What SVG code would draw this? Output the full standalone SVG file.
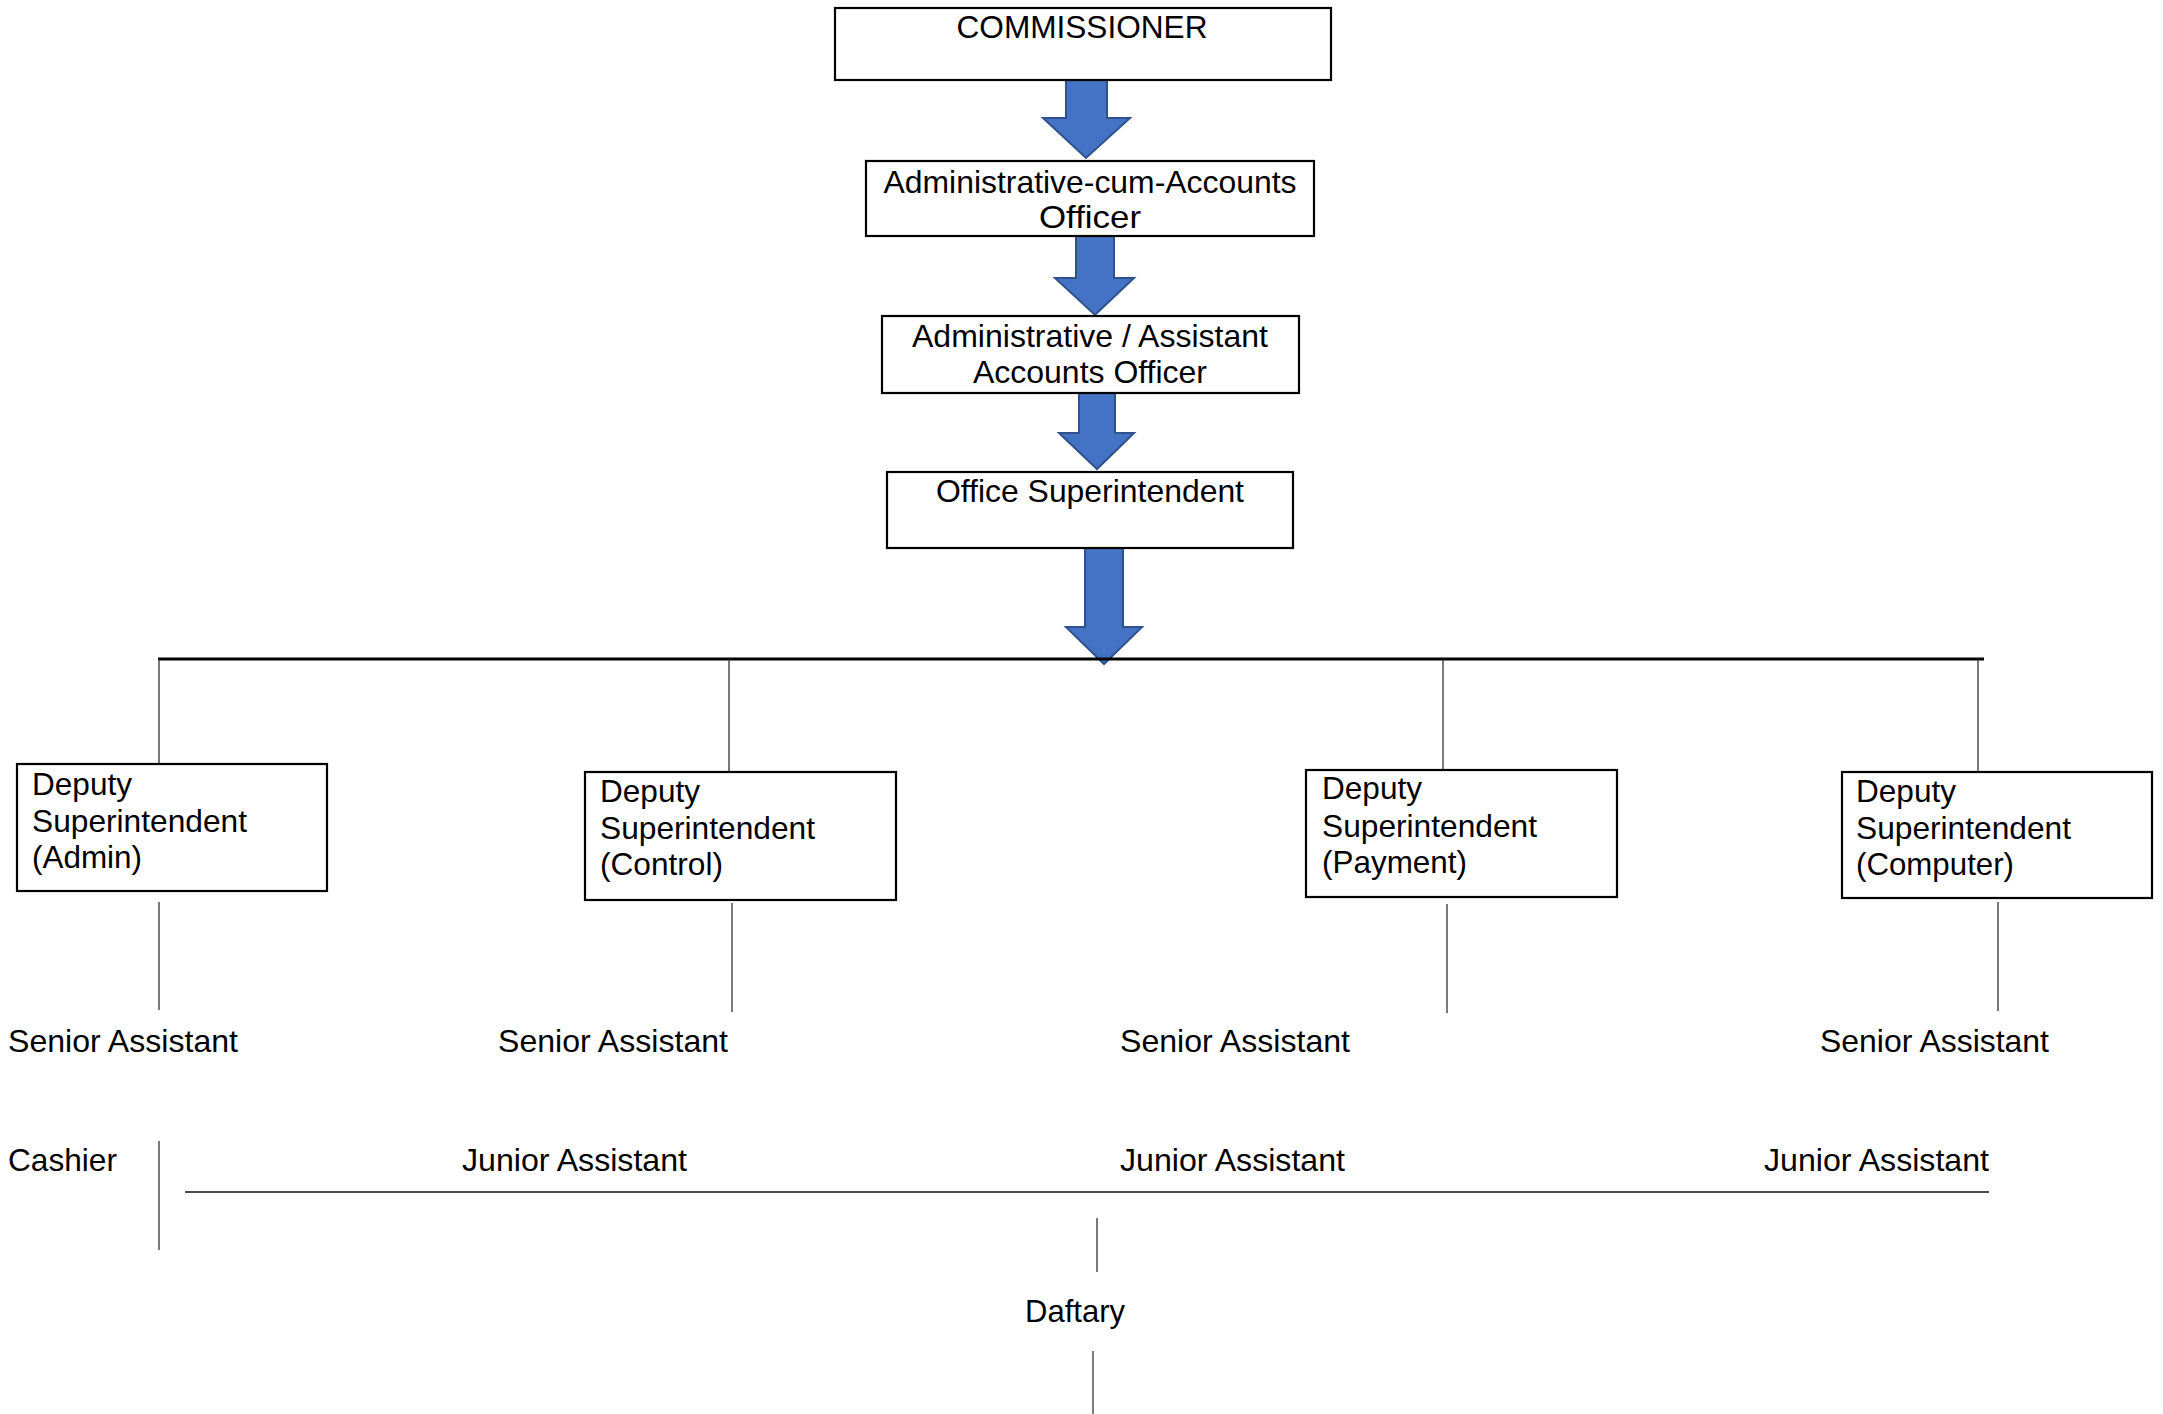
<svg xmlns="http://www.w3.org/2000/svg" width="2163" height="1414" viewBox="0 0 2163 1414">
<style>
  .box { fill: #ffffff; stroke: #000000; stroke-width: 2.2; }
  .arrow { fill: #4472C4; stroke: #2F528F; stroke-width: 2; stroke-linejoin: miter; }
  .t { font-family: "Liberation Sans", Arial, sans-serif; font-size: 30.5px; fill: #000000; }
  .c { text-anchor: middle; }
  .thin { stroke: #333333; stroke-width: 1.3; fill: none; }
  .thick { stroke: #000000; stroke-width: 3; fill: none; }
  .bar { stroke: #4a4a4a; stroke-width: 2; fill: none; }
</style>
<rect width="2163" height="1414" fill="#ffffff"/>

<g id="connectors">
  <polygon class="arrow" points="1066,80 1107,80 1107,118 1130,118 1086,158 1043,118 1066,118"/>
  <polygon class="arrow" points="1076,236 1114,236 1114,278 1134,278 1095,315 1055,278 1076,278"/>
  <polygon class="arrow" points="1079,393 1115,393 1115,433 1134,433 1097,469 1059,433 1079,433"/>
  <polygon class="arrow" points="1085,546 1123,546 1123,627 1142,627 1104,664 1066,627 1085,627"/>
  <line class="thick" x1="158" y1="659" x2="1984" y2="659"/>
  <line class="thin" x1="159" y1="659" x2="159" y2="764"/>
  <line class="thin" x1="729" y1="659" x2="729" y2="772"/>
  <line class="thin" x1="1443" y1="659" x2="1443" y2="770"/>
  <line class="thin" x1="1978" y1="659" x2="1978" y2="772"/>
  <line class="thin" x1="159" y1="902" x2="159" y2="1010"/>
  <line class="thin" x1="732" y1="903" x2="732" y2="1012"/>
  <line class="thin" x1="1447" y1="904" x2="1447" y2="1013"/>
  <line class="thin" x1="1998" y1="902" x2="1998" y2="1011"/>
  <line class="thin" x1="159" y1="1141" x2="159" y2="1250"/>
  <line class="bar" x1="185" y1="1192" x2="1989" y2="1192"/>
  <line class="thin" x1="1097" y1="1218" x2="1097" y2="1272"/>
  <line class="thin" x1="1093" y1="1351" x2="1093" y2="1414"/>
</g>

<g id="commissioner">
  <rect class="box" x="835" y="8" width="496" height="72"/>
  <text class="t c" x="1082" y="38" textLength="251" lengthAdjust="spacingAndGlyphs">COMMISSIONER</text>
</g>

<g id="admin-cum-accounts-officer">
  <rect class="box" x="866" y="161" width="448" height="75"/>
  <text class="t c" x="1090" y="193" textLength="413" lengthAdjust="spacingAndGlyphs">Administrative-cum-Accounts</text>
  <text class="t c" x="1090" y="228" textLength="102" lengthAdjust="spacingAndGlyphs">Officer</text>
</g>

<g id="admin-assistant-accounts-officer">
  <rect class="box" x="882" y="316" width="417" height="77"/>
  <text class="t c" x="1090" y="347" textLength="356" lengthAdjust="spacingAndGlyphs">Administrative / Assistant</text>
  <text class="t c" x="1090" y="383" textLength="234" lengthAdjust="spacingAndGlyphs">Accounts Officer</text>
</g>

<g id="office-superintendent">
  <rect class="box" x="887" y="472" width="406" height="76"/>
  <text class="t c" x="1090" y="502" textLength="308" lengthAdjust="spacingAndGlyphs">Office Superintendent</text>
</g>

<g id="ds-admin">
  <rect class="box" x="17" y="764" width="310" height="127"/>
  <text class="t" x="32" y="795" textLength="100" lengthAdjust="spacingAndGlyphs">Deputy</text>
  <text class="t" x="32" y="832" textLength="215" lengthAdjust="spacingAndGlyphs">Superintendent</text>
  <text class="t" x="32" y="868" textLength="110" lengthAdjust="spacingAndGlyphs">(Admin)</text>
</g>

<g id="ds-control">
  <rect class="box" x="585" y="772" width="311" height="128"/>
  <text class="t" x="600" y="802" textLength="100" lengthAdjust="spacingAndGlyphs">Deputy</text>
  <text class="t" x="600" y="839" textLength="215" lengthAdjust="spacingAndGlyphs">Superintendent</text>
  <text class="t" x="600" y="875" textLength="123" lengthAdjust="spacingAndGlyphs">(Control)</text>
</g>

<g id="ds-payment">
  <rect class="box" x="1306" y="770" width="311" height="127"/>
  <text class="t" x="1322" y="799" textLength="100" lengthAdjust="spacingAndGlyphs">Deputy</text>
  <text class="t" x="1322" y="837" textLength="215" lengthAdjust="spacingAndGlyphs">Superintendent</text>
  <text class="t" x="1322" y="873" textLength="145" lengthAdjust="spacingAndGlyphs">(Payment)</text>
</g>

<g id="ds-computer">
  <rect class="box" x="1842" y="772" width="310" height="126"/>
  <text class="t" x="1856" y="802" textLength="100" lengthAdjust="spacingAndGlyphs">Deputy</text>
  <text class="t" x="1856" y="839" textLength="215" lengthAdjust="spacingAndGlyphs">Superintendent</text>
  <text class="t" x="1856" y="875" textLength="158" lengthAdjust="spacingAndGlyphs">(Computer)</text>
</g>

<g id="senior-assistants">
  <text class="t" x="8" y="1052" textLength="230" lengthAdjust="spacingAndGlyphs">Senior Assistant</text>
  <text class="t" x="498" y="1052" textLength="230" lengthAdjust="spacingAndGlyphs">Senior Assistant</text>
  <text class="t" x="1120" y="1052" textLength="230" lengthAdjust="spacingAndGlyphs">Senior Assistant</text>
  <text class="t" x="1820" y="1052" textLength="229" lengthAdjust="spacingAndGlyphs">Senior Assistant</text>
</g>

<g id="cashier">
  <text class="t" x="8" y="1171" textLength="109" lengthAdjust="spacingAndGlyphs">Cashier</text>
</g>

<g id="junior-assistants">
  <text class="t" x="462" y="1171" textLength="225" lengthAdjust="spacingAndGlyphs">Junior Assistant</text>
  <text class="t" x="1120" y="1171" textLength="225" lengthAdjust="spacingAndGlyphs">Junior Assistant</text>
  <text class="t" x="1764" y="1171" textLength="225" lengthAdjust="spacingAndGlyphs">Junior Assistant</text>
</g>

<g id="daftary">
  <text class="t" x="1025" y="1322" textLength="100" lengthAdjust="spacingAndGlyphs">Daftary</text>
</g>
</svg>
